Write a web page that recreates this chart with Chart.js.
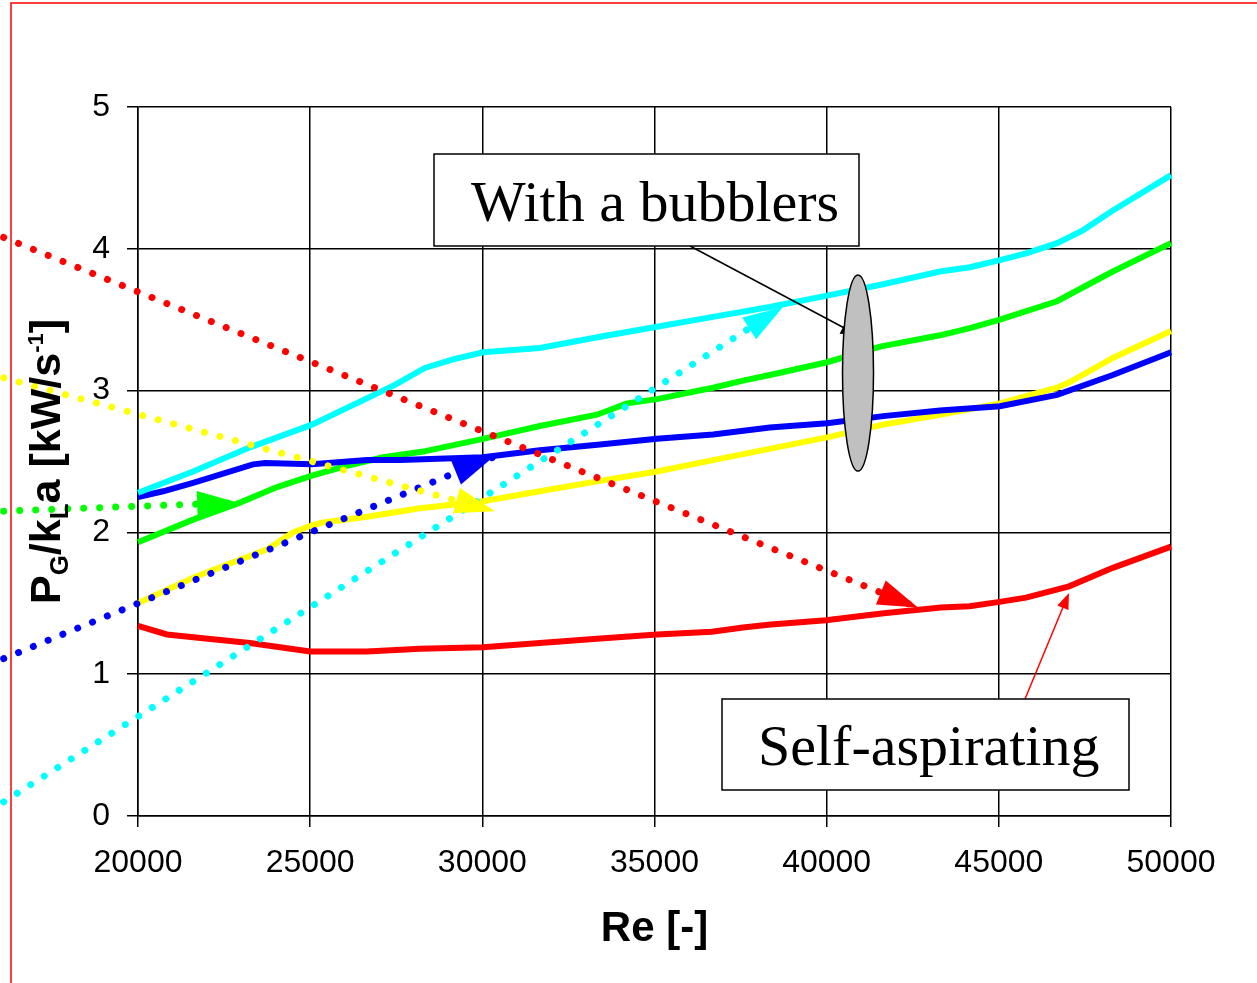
<!DOCTYPE html>
<html lang="en">
<head>
<meta charset="UTF-8">
<title>PG/kLa vs Re</title>
<style>
  body { margin: 0; background: #fff; }
  #chart { display: block; }
</style>
</head>
<body>
<canvas id="chart" width="1257" height="983"></canvas>
<script src="https://cdn.jsdelivr.net/npm/chart.js"></script>
<script>
// axis ticks
const xTicks = [20000, 25000, 30000, 35000, 40000, 45000, 50000];
const yTicks = [0, 1, 2, 3, 4, 5];

// solid curves (Re, PG/kLa)
const cyanRe  = [20000, 21600, 23250, 25050, 27460, 28330, 29150, 30020, 31670, 33420, 35070, 36700, 38350, 40010, 41640, 43290, 44160, 45030, 45820, 46690, 47440, 48310, 50000];
const cyanVal = [2.28, 2.43, 2.60, 2.76, 3.04, 3.16, 3.22, 3.27, 3.30, 3.38, 3.45, 3.52, 3.59, 3.67, 3.75, 3.84, 3.87, 3.92, 3.97, 4.04, 4.13, 4.27, 4.52];

const greenRe  = [20000, 21600, 22960, 24040, 25050, 26070, 27120, 28280, 30020, 31670, 33330, 34200, 35070, 36700, 37570, 38350, 40010, 41550, 43290, 44160, 45030, 46690, 48310, 50000];
const greenVal = [1.93, 2.09, 2.21, 2.32, 2.40, 2.47, 2.53, 2.57, 2.66, 2.75, 2.83, 2.91, 2.94, 3.02, 3.07, 3.11, 3.20, 3.31, 3.39, 3.44, 3.50, 3.63, 3.84, 4.04];

const blueRe  = [20000, 20730, 21600, 23340, 23690, 25050, 26650, 27610, 30020, 31670, 33420, 35070, 36700, 38350, 40010, 41640, 43290, 45030, 46690, 48310, 50000];
const blueVal = [2.25, 2.29, 2.35, 2.48, 2.49, 2.48, 2.51, 2.51, 2.53, 2.58, 2.62, 2.66, 2.69, 2.74, 2.77, 2.82, 2.86, 2.89, 2.97, 3.11, 3.27];

const yellowRe  = [20000, 21600, 23750, 24500, 25050, 25370, 26650, 28190, 30020, 31670, 33330, 35070, 36700, 40010, 41640, 43290, 45030, 46690, 47060, 48310, 50000];
const yellowVal = [1.50, 1.68, 1.88, 2.00, 2.05, 2.07, 2.11, 2.17, 2.22, 2.29, 2.36, 2.43, 2.51, 2.67, 2.76, 2.83, 2.91, 3.02, 3.06, 3.23, 3.42];

const redRe  = [20000, 20840, 21600, 23250, 25000, 26650, 28190, 30020, 31670, 33330, 35070, 36670, 37570, 38380, 39980, 41660, 43320, 44150, 45020, 45790, 47040, 48310, 50000];
const redVal = [1.34, 1.28, 1.26, 1.22, 1.16, 1.16, 1.18, 1.19, 1.22, 1.25, 1.28, 1.30, 1.33, 1.35, 1.38, 1.43, 1.47, 1.48, 1.51, 1.54, 1.62, 1.75, 1.90];

// dotted trend arrows: start and tip
const redTrendRe = [16100, 42650],    redTrendVal = [4.08, 1.47];
const yellowTrendRe = [16100, 30370], yellowTrendVal = [3.09, 2.15];
const greenTrendRe = [16100, 22880],  greenTrendVal = [2.15, 2.21];
const blueTrendRe = [16100, 30310],   blueTrendVal = [1.11, 2.53];
const cyanTrendRe = [16100, 38730],   cyanTrendVal = [0.10, 3.59];

const pts = (xs, ys) => xs.map((x, i) => ({ x: x, y: ys[i] }));

function solid(xs, ys, color) {
  return { data: pts(xs, ys), borderColor: color, borderWidth: 6, showLine: true,
           pointRadius: 0, borderJoinStyle: 'miter', clip: false };
}
function dotted(xs, ys, color) {
  return { data: pts(xs, ys), borderColor: color, backgroundColor: color, borderWidth: 7,
           borderDash: [0.001, 16], borderCapStyle: 'round', showLine: true,
           pointRadius: 0, clip: false, arrow: true };
}

function arrowHead(ctx, fx, fy, tx, ty, len, half, color) {
  const a = Math.atan2(ty - fy, tx - fx);
  const bx = tx - len * Math.cos(a), by = ty - len * Math.sin(a);
  ctx.save();
  ctx.fillStyle = color;
  ctx.beginPath();
  ctx.moveTo(tx, ty);
  ctx.lineTo(bx + half * Math.sin(a), by - half * Math.cos(a));
  ctx.lineTo(bx - half * Math.sin(a), by + half * Math.cos(a));
  ctx.closePath();
  ctx.fill();
  ctx.restore();
}

const SANS = '"Liberation Sans", Arial, sans-serif';
const SERIF = '"Liberation Serif", "Times New Roman", serif';

const extras = {
  id: 'extras',
  beforeDraw(chart) {
    const c = chart.ctx;
    c.save();
    c.strokeStyle = '#ff0000';
    c.lineWidth = 1.5;
    c.beginPath();
    c.moveTo(11, 983); c.lineTo(11, 3); c.lineTo(1257, 3);
    c.stroke();
    c.restore();
  },
  afterDatasetsDraw(chart) {
    const c = chart.ctx;
    // arrowheads on dotted trend lines
    chart.data.datasets.forEach((ds, i) => {
      if (!ds.arrow) return;
      const p = chart.getDatasetMeta(i).data;
      const a = p[p.length - 2], b = p[p.length - 1];
      arrowHead(c, a.x, a.y, b.x, b.y, 40, 13, ds.borderColor);
    });

    // "With a bubblers" callout
    c.save();
    c.lineWidth = 1.5;
    c.strokeStyle = '#000';
    c.beginPath();
    c.moveTo(690, 246); c.lineTo(850, 331);
    c.stroke();
    arrowHead(c, 690, 246, 857, 335, 16, 7, '#000');
    c.fillStyle = '#c0c0c0';
    c.beginPath();
    c.ellipse(858, 373, 15.5, 98, 0, 0, Math.PI * 2);
    c.fill();
    c.stroke();
    c.fillStyle = '#fff';
    c.fillRect(434, 154, 425, 92);
    c.strokeRect(434, 154, 425, 92);
    c.fillStyle = '#000';
    c.font = '58px ' + SERIF;
    c.textBaseline = 'alphabetic';
    c.fillText('With a bubblers', 471, 221);

    // "Self-aspirating" callout
    c.strokeStyle = '#ff0000';
    c.beginPath();
    c.moveTo(1025, 699); c.lineTo(1066, 600);
    c.stroke();
    arrowHead(c, 1025, 699, 1069, 593, 16, 6, '#ff0000');
    c.strokeStyle = '#000';
    c.fillStyle = '#fff';
    c.fillRect(722, 699, 407, 91);
    c.strokeRect(722, 699, 407, 91);
    c.fillStyle = '#000';
    c.fillText('Self-aspirating', 758, 765);
    c.restore();
  },
  afterDraw(chart) {
    const c = chart.ctx;
    const area = chart.chartArea;
    c.save();
    c.fillStyle = '#000';
    c.textBaseline = 'alphabetic';
    // x title
    c.font = 'bold 42px ' + SANS;
    c.textAlign = 'center';
    c.fillText('Re [-]', (area.left + area.right) / 2, 941);

    // y title with sub/superscripts
    const parts = [
      ['P', 0, 43], ['G', 8, 26], ['/k', 0, 43], ['L', 8, 26],
      ['a [kW/s', 0, 43], ['-1', -17, 22], [']', 0, 43]
    ];
    c.textAlign = 'left';
    let total = 0;
    parts.forEach(p => { c.font = 'bold ' + p[2] + 'px ' + SANS; total += c.measureText(p[0]).width; });
    c.translate(60, (area.top + area.bottom) / 2);
    c.rotate(-Math.PI / 2);
    let x = -total / 2;
    parts.forEach(p => {
      c.font = 'bold ' + p[2] + 'px ' + SANS;
      c.fillText(p[0], x, p[1]);
      x += c.measureText(p[0]).width;
    });
    c.restore();
  }
};

new Chart(document.getElementById('chart'), {
  type: 'scatter',
  data: {
    datasets: [
      dotted(redTrendRe, redTrendVal, '#ff0000'),
      dotted(yellowTrendRe, yellowTrendVal, '#ffff00'),
      dotted(greenTrendRe, greenTrendVal, '#00ff00'),
      dotted(blueTrendRe, blueTrendVal, '#0000ff'),
      dotted(cyanTrendRe, cyanTrendVal, '#00ffff'),
      solid(cyanRe, cyanVal, '#00ffff'),
      solid(blueRe, blueVal, '#0000ff'),
      solid(yellowRe, yellowVal, '#ffff00'),
      solid(greenRe, greenVal, '#00ff00'),
      solid(redRe, redVal, '#ff0000')
    ]
  },
  options: {
    responsive: false,
    animation: false,
    events: [],
    layout: { padding: { top: 107, right: 86, left: 0, bottom: 0 } },
    plugins: { legend: { display: false }, tooltip: { enabled: false } },
    scales: {
      x: {
        type: 'linear',
        min: 20000, max: 50000,
        afterBuildTicks: s => { s.ticks = xTicks.map(v => ({ value: v })); },
        afterFit: s => { s.height = 167; },
        ticks: { color: '#000', font: { family: SANS, size: 32 }, padding: 17,
                 maxRotation: 0, callback: v => String(v) },
        grid: { color: '#000', lineWidth: 1.5, tickLength: 11 },
        border: { color: '#000', width: 1.5 }
      },
      y: {
        min: 0, max: 5,
        afterBuildTicks: s => { s.ticks = yTicks.map(v => ({ value: v })); },
        afterFit: s => { s.width = 138; },
        ticks: { color: '#000', font: { family: SANS, size: 32 }, padding: 17,
                 callback: v => String(v) },
        grid: { color: '#000', lineWidth: 1.5, tickLength: 11 },
        border: { color: '#000', width: 1.5 }
      }
    }
  },
  plugins: [extras]
});
</script>
</body>
</html>
